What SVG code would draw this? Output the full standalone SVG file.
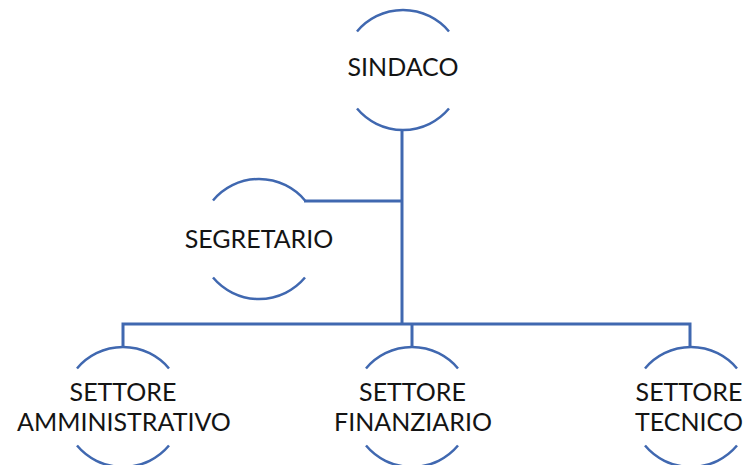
<svg xmlns="http://www.w3.org/2000/svg" width="744" height="465" viewBox="0 0 744 465">
<style>
.arc{fill:none;stroke:#4068b0;stroke-width:2.5;stroke-linecap:butt}
.con{fill:none;stroke:#4068b0;stroke-width:3}
text{font-family:Lato,"Open Sans","Liberation Sans",sans-serif;font-size:25px;fill:#141414;text-anchor:middle}
</style>
<rect width="744" height="465" fill="#ffffff"/>
<g id="connectors">
<path class="con" d="M402,130 V324"/>
<path class="con" d="M304,201 H402"/>
<path class="con" d="M123,347 V324 H690 V347"/>
<path class="con" d="M412,324 V347"/>
</g>
<g id="sindaco">
<path class="arc" d="M357,31.5 A60,60 0 0 1 449,31.5"/>
<path class="arc" d="M357,108.5 A60,60 0 0 0 449,108.5"/>
<text x="403" y="76">SINDACO</text>
</g>
<g id="segretario">
<path class="arc" d="M213,200.5 A60,60 0 0 1 305,200.5"/>
<path class="arc" d="M213,277.5 A60,60 0 0 0 305,277.5"/>
<text x="259" y="248">SEGRETARIO</text>
</g>
<g id="settore-amministrativo">
<path class="arc" d="M77,368.5 A60,60 0 0 1 169,368.5"/>
<path class="arc" d="M77,445.5 A60,60 0 0 0 169,445.5"/>
<text><tspan x="123" y="401">SETTORE</tspan><tspan x="124" y="431">AMMINISTRATIVO</tspan></text>
</g>
<g id="settore-finanziario">
<path class="arc" d="M366,368.5 A60,60 0 0 1 458,368.5"/>
<path class="arc" d="M366,445.5 A60,60 0 0 0 458,445.5"/>
<text><tspan x="412.5" y="401">SETTORE</tspan><tspan x="413" y="431">FINANZIARIO</tspan></text>
</g>
<g id="settore-tecnico">
<path class="arc" d="M645,368.5 A60,60 0 0 1 737,368.5"/>
<path class="arc" d="M645,445.5 A60,60 0 0 0 737,445.5"/>
<text><tspan x="689" y="401">SETTORE</tspan><tspan x="689" y="431">TECNICO</tspan></text>
</g>
</svg>
